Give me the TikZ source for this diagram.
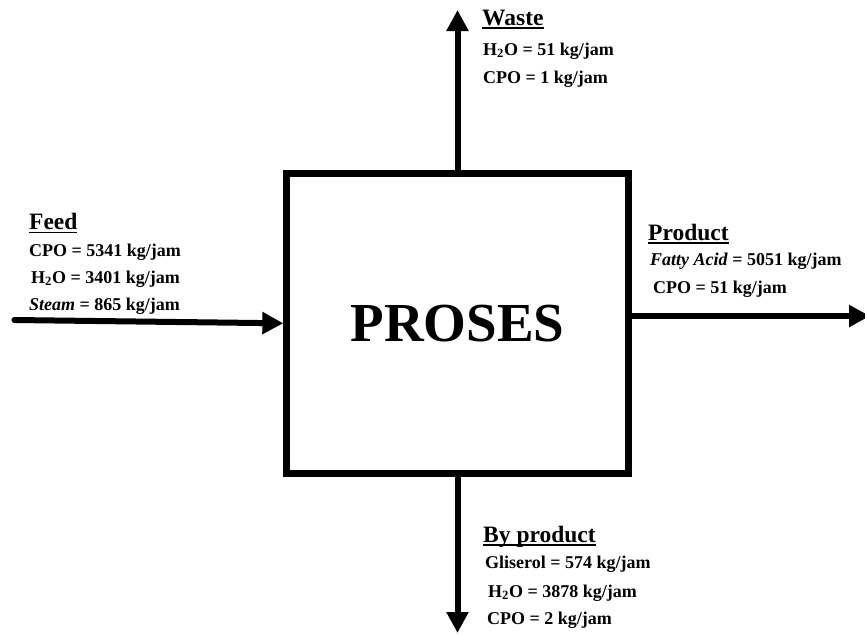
\documentclass[tikz,border=0pt]{standalone}
\usepackage{fontspec}
\setmainfont{Liberation Serif}
\usetikzlibrary{arrows.meta}
\newcommand{\hdul}[1]{\setbox0=\hbox{#1}\rlap{\rule[-3.6pt]{\wd0}{1.6pt}}\box0}
\tikzset{
  lbl/.style={anchor=base west, inner sep=0pt, font=\fontsize{18}{20}\selectfont\bfseries},
  hd/.style={anchor=base west, inner sep=0pt, font=\fontsize{23.5}{26}\selectfont\bfseries},
  flow/.style={line width=6pt, -{Triangle[length=21pt,width=21pt]}},
  procbox/.style={draw, line width=6.7pt, minimum width=341.6pt, minimum height=300pt,
    inner sep=0pt, font=\fontsize{55}{60}\selectfont\bfseries}
}
\begin{document}
\begin{tikzpicture}[x=1pt, y=-1pt]
\useasboundingbox (0,0) rectangle (865,633);

% process box
\node[procbox] (proc) at (457.5,323.3) {PROSES};

% free ends
\coordinate (feedin) at (14.4,320);
\coordinate (wasteout) at (457.5,10);
\coordinate (prodout) at (870,316);
\coordinate (byout) at (457.5,633);

% connectors
\draw[flow, line cap=round] (feedin) -- (proc.west);
\draw[flow] (proc.north) -- (wasteout);
\draw[flow] (proc.east |- prodout) -- (prodout);
\draw[flow] (proc.south) -- (byout);

% Feed
\node[hd]  (feedh) at (29,229.7) {\hdul{Feed}};
\node[lbl] (feed1) at (29,256.7) {CPO = 5341 kg/jam};
\node[lbl] (feed2) at (31,283.3) {H\textsubscript{2}O = 3401 kg/jam};
\node[lbl] (feed3) at (29,310)   {\textit{Steam} = 865 kg/jam};

% Waste
\node[hd]  (wasteh) at (482,25) {\hdul{Waste}};
\node[lbl] (waste1) at (483,55) {H\textsubscript{2}O = 51 kg/jam};
\node[lbl] (waste2) at (483,83) {CPO = 1 kg/jam};

% Product
\node[hd]  (prodh) at (648,240) {\hdul{Product}};
\node[lbl] (prod1) at (650,265) {\textit{Fatty Acid} = 5051 kg/jam};
\node[lbl] (prod2) at (653,293) {CPO = 51 kg/jam};

% By product
\node[hd]  (byh) at (483,542) {\hdul{By product}};
\node[lbl] (by1) at (485,568) {Gliserol = 574 kg/jam};
\node[lbl] (by2) at (488,597) {H\textsubscript{2}O = 3878 kg/jam};
\node[lbl] (by3) at (487,624) {CPO = 2 kg/jam};
\end{tikzpicture}
\end{document}
